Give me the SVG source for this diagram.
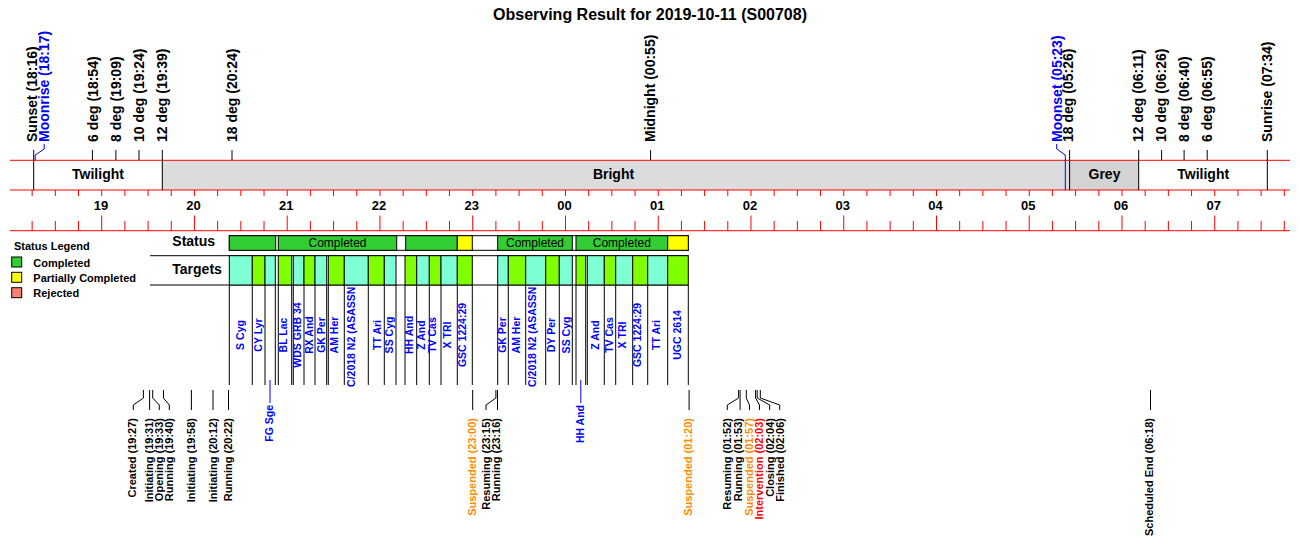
<svg xmlns="http://www.w3.org/2000/svg" width="1300" height="560" viewBox="0 0 1300 560">
<style>
text { font-family: "Liberation Sans", Arial, sans-serif; fill:#000; }
.title { font-size:16px; font-weight:bold; text-anchor:middle; }
.top { font-size:14px; font-weight:bold; }
.band { font-size:14px; font-weight:bold; text-anchor:middle; }
.hr { font-size:13px; font-weight:bold; text-anchor:middle; }
.red { stroke:#ff0000; stroke-width:1; fill:none; }
.blk { stroke:#000; stroke-width:1; fill:none; }
.blu { stroke:#0000ff; stroke-width:1; fill:none; }
.tg { font-size:10.5px; font-weight:bold; fill:#0000ff; text-anchor:middle; }
.tgl { font-size:10.5px; font-weight:bold; fill:#0000ff; text-anchor:end; }
.ev { font-size:11px; font-weight:bold; text-anchor:end; }
.or { fill:#ff8c00; }
.rd { fill:#ff0000; }
.bl { fill:#0000ff; }
.cell { stroke:#000; stroke-width:1; }
.g { fill:#32cd32; }
.y { fill:#ffff00; }
.aq { fill:#7fffd4; }
.ch { fill:#7fff00; }
.st { font-size:12px; text-anchor:middle; }
.lab { font-size:14px; font-weight:bold; }
.leg { font-size:11px; font-weight:bold; }
</style>
<defs>
<clipPath id="colclip"><rect x="220" y="285.5" width="480" height="110"/></clipPath>
</defs>
<rect width="1300" height="560" fill="#fff"/>
<text class="title" x="650" y="20">Observing Result for 2019-10-11 (S00708)</text>

<!-- bands -->
<g id="bands">
<rect x="162" y="160.3" width="903.3" height="29.7" fill="#dcdcdc"/>
<rect x="1065.3" y="160.3" width="4.6" height="29.7" fill="#dcdcdc"/>
<rect x="1069.9" y="160.3" width="69.1" height="29.7" fill="#d3d3d3"/>
<text class="band" x="98" y="179">Twilight</text>
<text class="band" x="613.5" y="179">Bright</text>
<text class="band" x="1104.5" y="179">Grey</text>
<text class="band" x="1203.2" y="179">Twilight</text>
</g>

<!-- axis -->
<g id="axis">
<path class="red" d="M10 160.3H1290M10 190H1290M10 230.7H1290"/>
<path class="red" d="M32.13 190v6M55.32 190v6M78.51 190v6M101.7 190v6M124.89 190v6M148.08 190v6M171.27 190v6M194.45 190v6M217.64 190v6M240.83 190v6M264.02 190v6M287.21 190v6M310.4 190v6M333.59 190v6M356.77 190v6M379.96 190v6M403.15 190v6M426.34 190v6M449.53 190v6M472.72 190v6M495.9 190v6M519.09 190v6M542.28 190v6M565.47 190v6M588.66 190v6M611.85 190v6M635.04 190v6M658.22 190v6M681.41 190v6M704.6 190v6M727.79 190v6M750.98 190v6M774.17 190v6M797.36 190v6M820.54 190v6M843.73 190v6M866.92 190v6M890.11 190v6M913.3 190v6M936.49 190v6M959.67 190v6M982.86 190v6M1006.05 190v6M1029.24 190v6M1052.43 190v6M1075.62 190v6M1098.81 190v6M1121.99 190v6M1145.18 190v6M1168.37 190v6M1191.56 190v6M1214.75 190v6M1237.94 190v6M1261.13 190v6M1284.31 190v6"/>
<path class="red" d="M32.13 221V230.7M55.32 221V230.7M78.51 221V230.7M124.89 221V230.7M148.08 221V230.7M171.27 221V230.7M217.64 221V230.7M240.83 221V230.7M264.02 221V230.7M310.4 221V230.7M333.59 221V230.7M356.77 221V230.7M403.15 221V230.7M426.34 221V230.7M449.53 221V230.7M495.9 221V230.7M519.09 221V230.7M542.28 221V230.7M588.66 221V230.7M611.85 221V230.7M635.04 221V230.7M681.41 221V230.7M704.6 221V230.7M727.79 221V230.7M774.17 221V230.7M797.36 221V230.7M820.54 221V230.7M866.92 221V230.7M890.11 221V230.7M913.3 221V230.7M959.67 221V230.7M982.86 221V230.7M1006.05 221V230.7M1052.43 221V230.7M1075.62 221V230.7M1098.81 221V230.7M1145.18 221V230.7M1168.37 221V230.7M1191.56 221V230.7M1237.94 221V230.7M1261.13 221V230.7M1284.31 221V230.7"/>
<path class="red" d="M101.7 215.5V230.7M194.45 215.5V230.7M287.21 215.5V230.7M379.96 215.5V230.7M472.72 215.5V230.7M565.47 215.5V230.7M658.22 215.5V230.7M750.98 215.5V230.7M843.73 215.5V230.7M936.49 215.5V230.7M1029.24 215.5V230.7M1121.99 215.5V230.7M1214.75 215.5V230.7"/>
<text class="hr" x="101" y="209.5">19</text>
<text class="hr" x="193.5" y="209.5">20</text>
<text class="hr" x="286.3" y="209.5">21</text>
<text class="hr" x="379" y="209.5">22</text>
<text class="hr" x="471.8" y="209.5">23</text>
<text class="hr" x="564.5" y="209.5">00</text>
<text class="hr" x="657.3" y="209.5">01</text>
<text class="hr" x="750" y="209.5">02</text>
<text class="hr" x="842.8" y="209.5">03</text>
<text class="hr" x="935.5" y="209.5">04</text>
<text class="hr" x="1028.3" y="209.5">05</text>
<text class="hr" x="1121" y="209.5">06</text>
<text class="hr" x="1213.8" y="209.5">07</text>
</g>

<!-- sky events -->
<g id="sunset"><path class="blk" d="M33.7 150V190"/><text class="top" transform="translate(36.7,142) rotate(-90)">Sunset (18:16)</text></g>
<g id="moonrise"><path class="blu" d="M35.2 160V155L44.2 149V144"/><text class="top bl" transform="translate(49.2,142) rotate(-90)">Moonrise (18:17)</text></g>
<g id="deg6-e"><path class="blk" d="M92.4 150V160"/><text class="top" transform="translate(97.6,142) rotate(-90)">6 deg (18:54)</text></g>
<g id="deg8-e"><path class="blk" d="M115.9 150V160"/><text class="top" transform="translate(120.8,142) rotate(-90)">8 deg (19:09)</text></g>
<g id="deg10-e"><path class="blk" d="M139 150V160"/><text class="top" transform="translate(143.8,142) rotate(-90)">10 deg (19:24)</text></g>
<g id="deg12-e"><path class="blk" d="M162.3 150V190"/><text class="top" transform="translate(167,142) rotate(-90)">12 deg (19:39)</text></g>
<g id="deg18-e"><path class="blk" d="M232 150V160"/><text class="top" transform="translate(236.8,142) rotate(-90)">18 deg (20:24)</text></g>
<g id="midnight"><path class="blk" d="M650.6 150V160"/><text class="top" transform="translate(655.4,142) rotate(-90)">Midnight (00:55)</text></g>
<g id="moonset"><path class="blu" d="M1065.3 190V155L1056.7 149V144"/><text class="top bl" transform="translate(1061.6,142) rotate(-90)">Moonset (05:23)</text></g>
<g id="deg18-m"><path class="blk" d="M1069.6 150V190"/><text class="top" transform="translate(1073.3,142) rotate(-90)">18 deg (05:26)</text></g>
<g id="deg12-m"><path class="blk" d="M1138.7 150V190"/><text class="top" transform="translate(1142.9,142) rotate(-90)">12 deg (06:11)</text></g>
<g id="deg10-m"><path class="blk" d="M1161.6 150V160"/><text class="top" transform="translate(1165.8,142) rotate(-90)">10 deg (06:26)</text></g>
<g id="deg8-m"><path class="blk" d="M1184.1 150V160"/><text class="top" transform="translate(1188.6,142) rotate(-90)">8 deg (06:40)</text></g>
<g id="deg6-m"><path class="blk" d="M1207.2 150V160"/><text class="top" transform="translate(1212,142) rotate(-90)">6 deg (06:55)</text></g>
<g id="sunrise"><path class="blk" d="M1267.3 150V190"/><text class="top" transform="translate(1272,142) rotate(-90)">Sunrise (07:34)</text></g>

<!-- legend -->
<g id="legend">
<text class="leg" x="14" y="249.5">Status Legend</text>
<rect class="cell g" x="11.7" y="257" width="10" height="10"/>
<text class="leg" x="33.3" y="266.5">Completed</text>
<rect class="cell y" x="11.7" y="272.3" width="10" height="10"/>
<text class="leg" x="33.3" y="281.5">Partially Completed</text>
<rect class="cell" fill="#fa8072" x="11.7" y="287.7" width="10" height="10"/>
<text class="leg" x="33.3" y="297">Rejected</text>
</g>

<text class="lab" x="172.3" y="246">Status</text>
<text class="lab" x="172.3" y="274">Targets</text>

<!-- status row -->
<g id="status">
<rect class="cell" fill="#fff" x="229.3" y="235.7" width="459" height="14.6"/>
<rect class="cell g" x="229.3" y="235.7" width="46.4" height="14.6"/>
<rect class="cell g" x="278.3" y="235.7" width="118.4" height="14.6"/>
<text class="st" x="337.5" y="247">Completed</text>
<rect class="cell g" x="405.7" y="235.7" width="51.6" height="14.6"/>
<rect class="cell y" x="457.3" y="235.7" width="15" height="14.6"/>
<rect class="cell g" x="497.7" y="235.7" width="74.6" height="14.6"/>
<text class="st" x="535" y="247">Completed</text>
<rect class="cell g" x="576" y="235.7" width="91.7" height="14.6"/>
<text class="st" x="621.8" y="247">Completed</text>
<rect class="cell y" x="667.7" y="235.7" width="20.6" height="14.6"/>
</g>

<!-- targets row -->
<g id="targets">
<path class="blk" d="M150 255.7H688.3M150 285H688.3"/>
<rect class="cell aq" x="229.3" y="255.7" width="23" height="29.3"/>
<rect class="cell ch" x="252.3" y="255.7" width="12.7" height="29.3"/>
<rect class="cell aq" x="265" y="255.7" width="10.3" height="29.3"/>
<rect class="cell ch" x="278.3" y="255.7" width="13.4" height="29.3"/>
<rect class="cell aq" x="293.3" y="255.7" width="10.7" height="29.3"/>
<rect class="cell ch" x="304" y="255.7" width="11" height="29.3"/>
<rect class="cell aq" x="315" y="255.7" width="11.7" height="29.3"/>
<rect class="cell ch" x="328.3" y="255.7" width="16" height="29.3"/>
<rect class="cell aq" x="344.3" y="255.7" width="24" height="29.3"/>
<rect class="cell ch" x="368.3" y="255.7" width="16" height="29.3"/>
<rect class="cell aq" x="384.3" y="255.7" width="11.7" height="29.3"/>
<rect class="cell ch" x="405" y="255.7" width="11.7" height="29.3"/>
<rect class="cell aq" x="416.7" y="255.7" width="12.6" height="29.3"/>
<rect class="cell ch" x="429.3" y="255.7" width="11.7" height="29.3"/>
<rect class="cell aq" x="441" y="255.7" width="16.3" height="29.3"/>
<rect class="cell ch" x="457.3" y="255.7" width="15" height="29.3"/>
<rect class="cell aq" x="497.7" y="255.7" width="10.6" height="29.3"/>
<rect class="cell ch" x="508.3" y="255.7" width="17.4" height="29.3"/>
<rect class="cell aq" x="525.7" y="255.7" width="20" height="29.3"/>
<rect class="cell ch" x="545.7" y="255.7" width="13.6" height="29.3"/>
<rect class="cell aq" x="559.3" y="255.7" width="13" height="29.3"/>
<rect class="cell ch" x="576" y="255.7" width="9.7" height="29.3"/>
<rect class="cell aq" x="587.3" y="255.7" width="17" height="29.3"/>
<rect class="cell ch" x="604.3" y="255.7" width="11.4" height="29.3"/>
<rect class="cell aq" x="615.7" y="255.7" width="17" height="29.3"/>
<rect class="cell ch" x="632.7" y="255.7" width="15" height="29.3"/>
<rect class="cell aq" x="647.7" y="255.7" width="20" height="29.3"/>
<rect class="cell ch" x="667.7" y="255.7" width="20.6" height="29.3"/>
<path class="blk" d="M229.3 285V385M252.3 285V385M265 285V385M275.3 285V385M278.3 285V385M291.7 285V385M293.3 285V385M304 285V385M315 285V385M326.7 285V385M328.3 285V385M344.3 285V385M368.3 285V385M384.3 285V385M396 285V385M405 285V385M416.7 285V385M429.3 285V385M441 285V385M457.3 285V385M472.3 285V385M497.7 285V385M508.3 285V385M525.7 285V385M545.7 285V385M559.3 285V385M572.3 285V385M576 285V385M585.7 285V385M587.3 285V385M604.3 285V385M615.7 285V385M632.7 285V385M647.7 285V385M667.7 285V385M688.3 285V385"/>
</g>

<g id="target-labels" clip-path="url(#colclip)">
<text class="tg" transform="translate(243.8,335) rotate(-90)">S Cyg</text>
<text class="tg" transform="translate(261.8,335) rotate(-90)">CY Lyr</text>
<text class="tg" transform="translate(286.8,335) rotate(-90)">BL Lac</text>
<text class="tg" transform="translate(301.3,335) rotate(-90)">WDS GRB 34</text>
<text class="tg" transform="translate(312.8,335) rotate(-90)">RX And</text>
<text class="tg" transform="translate(324.8,335) rotate(-90)">GK Per</text>
<text class="tg" transform="translate(337.8,335) rotate(-90)">AM Her</text>
<text class="tg" transform="translate(354.8,335) rotate(-90)">C/2018 N2 (ASASSN)</text>
<text class="tg" transform="translate(380.5,335) rotate(-90)">TT Ari</text>
<text class="tg" transform="translate(392.8,335) rotate(-90)">SS Cyg</text>
<text class="tg" transform="translate(412.8,335) rotate(-90)">HH And</text>
<text class="tg" transform="translate(424.8,335) rotate(-90)">Z And</text>
<text class="tg" transform="translate(436.3,335) rotate(-90)">TV Cas</text>
<text class="tg" transform="translate(450.5,335) rotate(-90)">X TRI</text>
<text class="tg" transform="translate(466.3,335) rotate(-90)">GSC 1224:29</text>
<text class="tg" transform="translate(506.3,335) rotate(-90)">GK Per</text>
<text class="tg" transform="translate(519.8,335) rotate(-90)">AM Her</text>
<text class="tg" transform="translate(535.5,335) rotate(-90)">C/2018 N2 (ASASSN)</text>
<text class="tg" transform="translate(554.8,335) rotate(-90)">DY Per</text>
<text class="tg" transform="translate(569.8,335) rotate(-90)">SS Cyg</text>
<text class="tg" transform="translate(598.8,335) rotate(-90)">Z And</text>
<text class="tg" transform="translate(612.8,335) rotate(-90)">TV Cas</text>
<text class="tg" transform="translate(626.3,335) rotate(-90)">X TRI</text>
<text class="tg" transform="translate(641.3,335) rotate(-90)">GSC 1224:29</text>
<text class="tg" transform="translate(659.8,335) rotate(-90)">TT Ari</text>
<text class="tg" transform="translate(680.5,335) rotate(-90)">UGC 2614</text>
</g>
<g id="fg-sge"><text class="tgl" transform="translate(272.8,405) rotate(-90)">FG Sge</text></g>
<g id="hh-and-low"><text class="tgl" transform="translate(583.6,405) rotate(-90)">HH And</text></g>

<!-- connectors -->
<g id="connectors">
<path class="blu" d="M270 380V403M580.8 380V403"/>
<path class="blk" d="M143.4 390V398L133.3 405V410M149.6 390V410M152.7 390V398L159.3 405V410M163.5 390V398L169.3 405V410M191.4 390V410M213 390V410M228.5 390V410M472.7 390V410M495.9 390V398L486 405V410M497.5 390V410M689.1 390V410M738.6 390V398L727.3 405V410M740.1 390V410M746.3 390V398L749.5 405V410M755.6 390V398L759.5 405V410M757.2 390V398L769.7 405V410M760.3 390V398L779.7 405V410M1150.5 390V410"/>
</g>

<!-- observing events -->
<g id="ev-created"><text class="ev" transform="translate(136.2,418) rotate(-90)">Created (19:27)</text></g>
<g id="ev-init1"><text class="ev" transform="translate(153,418) rotate(-90)">Initiating (19:31)</text></g>
<g id="ev-open"><text class="ev" transform="translate(163.3,418) rotate(-90)">Opening (19:33)</text></g>
<g id="ev-run1"><text class="ev" transform="translate(173,418) rotate(-90)">Running (19:40)</text></g>
<g id="ev-init2"><text class="ev" transform="translate(195,418) rotate(-90)">Initiating (19:58)</text></g>
<g id="ev-init3"><text class="ev" transform="translate(216.6,418) rotate(-90)">Initiating (20:12)</text></g>
<g id="ev-run2"><text class="ev" transform="translate(232.3,418) rotate(-90)">Running (20:22)</text></g>
<g id="ev-susp1"><text class="ev or" transform="translate(475.7,418) rotate(-90)">Suspended (23:00)</text></g>
<g id="ev-res1"><text class="ev" transform="translate(490,418) rotate(-90)">Resuming (23:15)</text></g>
<g id="ev-run3"><text class="ev" transform="translate(500.3,418) rotate(-90)">Running (23:16)</text></g>
<g id="ev-susp2"><text class="ev or" transform="translate(692.3,418) rotate(-90)">Suspended (01:20)</text></g>
<g id="ev-res2"><text class="ev" transform="translate(731.3,418) rotate(-90)">Resuming (01:52)</text></g>
<g id="ev-run4"><text class="ev" transform="translate(742,418) rotate(-90)">Running (01:53)</text></g>
<g id="ev-susp3"><text class="ev or" transform="translate(753.3,418) rotate(-90)">Suspended (01:57)</text></g>
<g id="ev-interv"><text class="ev rd" transform="translate(763.3,418) rotate(-90)">Intervention (02:03)</text></g>
<g id="ev-close"><text class="ev" transform="translate(773.7,418) rotate(-90)">Closing (02:04)</text></g>
<g id="ev-finish"><text class="ev" transform="translate(783.7,418) rotate(-90)">Finished (02:06)</text></g>
<g id="ev-schedend"><text class="ev" transform="translate(1153.3,418) rotate(-90)">Scheduled End (06:18)</text></g>
</svg>
